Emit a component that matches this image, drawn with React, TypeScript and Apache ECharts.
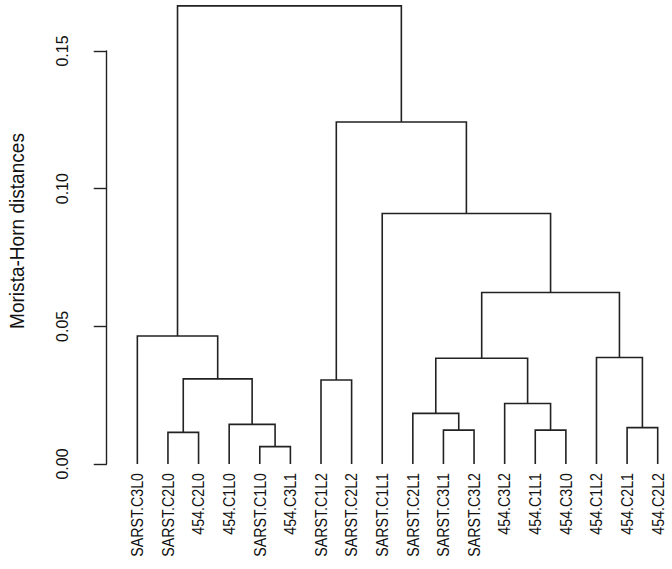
import React, { useEffect, useRef } from "react";
import * as echarts from "echarts";

// Leaf labels in dendrogram order (left to right)
const leafLabels = [
  "SARST.C3L0", "SARST.C2L0", "454.C2L0", "454.C1L0", "SARST.C1L0", "454.C3L1",
  "SARST.C1L2", "SARST.C2L2", "SARST.C1L1", "SARST.C2L1", "SARST.C3L1", "SARST.C3L2",
  "454.C3L2", "454.C1L1", "454.C3L0", "454.C1L2", "454.C2L1", "454.C2L2",
];

// hclust-style merge table: negative = leaf (1-based), positive = earlier merge step (1-based)
const mergeLeft = [-5, -2, -11, -14, -17, -4, -10, -13, -7, 2, 7, -16, -1, 11, -9, 9, 13];
const mergeRight = [-6, -3, -12, -15, -18, 1, 3, 4, -8, 6, 8, 5, 10, 12, 14, 15, 16];
const mergeHeight = [
  0.0063, 0.0115, 0.0123, 0.0123, 0.0132, 0.0144, 0.0184, 0.022, 0.0305, 0.0309,
  0.0384, 0.0387, 0.0465, 0.0623, 0.091, 0.1242, 0.1664,
];

const yTicks = [0, 0.05, 0.1, 0.15];
const yTitle = "Morista-Horn distances";

function buildSegments() {
  const nodeX: number[] = [];
  const nodeH: number[] = [];
  const childPos = (c: number): [number, number] =>
    c < 0 ? [-c, 0] : [nodeX[c - 1], nodeH[c - 1]];
  const segs: number[][] = [];
  for (let i = 0; i < mergeLeft.length; i++) {
    const [xl, hl] = childPos(mergeLeft[i]);
    const [xr, hr] = childPos(mergeRight[i]);
    const h = mergeHeight[i];
    nodeX.push((xl + xr) / 2);
    nodeH.push(h);
    segs.push([xl, hl, xr, hr, h]);
  }
  return segs;
}

const LINE = "#222222";
const TEXT = "#111111";
const FONT = "'Liberation Sans', Arial, sans-serif";

export default function App() {
  const ref = useRef<HTMLDivElement>(null);
  useEffect(() => {
    if (!ref.current) return;
    const chart = echarts.init(ref.current, undefined, { renderer: "svg" });
    const segs = buildSegments();
    const leafData = leafLabels.map((name, i) => [i + 1, 0, name]);
    chart.setOption({
      animation: false,
      backgroundColor: "#ffffff",
      grid: { left: 100, right: 12, top: 51, bottom: 105, containLabel: false },
      xAxis: {
        type: "value",
        min: -0.22,
        max: 18.075,
        show: false,
      },
      yAxis: {
        type: "value",
        min: yTicks[0],
        max: yTicks[yTicks.length - 1],
        interval: 0.05,
        axisLine: { show: true, lineStyle: { color: LINE, width: 1.4 } },
        axisTick: { show: true, inside: false, length: 13, lineStyle: { color: LINE, width: 1.4 } },
        splitLine: { show: false },
        axisLabel: {
          rotate: 90,
          margin: 30,
          color: TEXT,
          fontSize: 16,
          fontFamily: FONT,
          formatter: (v: number) => v.toFixed(2),
        },
      },
      graphic: [
        {
          type: "text",
          x: 17,
          y: 231,
          rotation: Math.PI / 2,
          scaleX: 0.93,
          style: {
            text: yTitle,
            fill: TEXT,
            font: `20.5px ${FONT}`,
            textAlign: "center",
            textVerticalAlign: "middle",
          },
        },
      ],
      series: [
        {
          type: "custom",
          clip: false,
          silent: true,
          data: segs,
          renderItem: (params: any, api: any) => {
            const xl = api.value(0), hl = api.value(1), xr = api.value(2), hr = api.value(3), h = api.value(4);
            const pts = [api.coord([xl, hl]), api.coord([xl, h]), api.coord([xr, h]), api.coord([xr, hr])];
            return {
              type: "polyline",
              shape: { points: pts },
              style: { stroke: LINE, lineWidth: 1.6, fill: "none" },
            };
          },
        },
        {
          type: "custom",
          clip: false,
          silent: true,
          data: leafData,
          renderItem: (params: any, api: any) => {
            const p = api.coord([api.value(0), api.value(1)]);
            return {
              type: "text",
              x: p[0],
              y: p[1] + 9,
              rotation: Math.PI / 2,
              scaleX: 0.89,
              style: {
                text: leafLabels[params.dataIndex],
                fill: TEXT,
                font: `16px ${FONT}`,
                textAlign: "right",
                textVerticalAlign: "middle",
              },
            };
          },
        },
      ],
    });
    return () => chart.dispose();
  }, []);
  return (
    <div
      ref={ref}
      style={{ position: "fixed", left: 0, top: 0, width: 672, height: 569, background: "#fff" }}
    />
  );
}
